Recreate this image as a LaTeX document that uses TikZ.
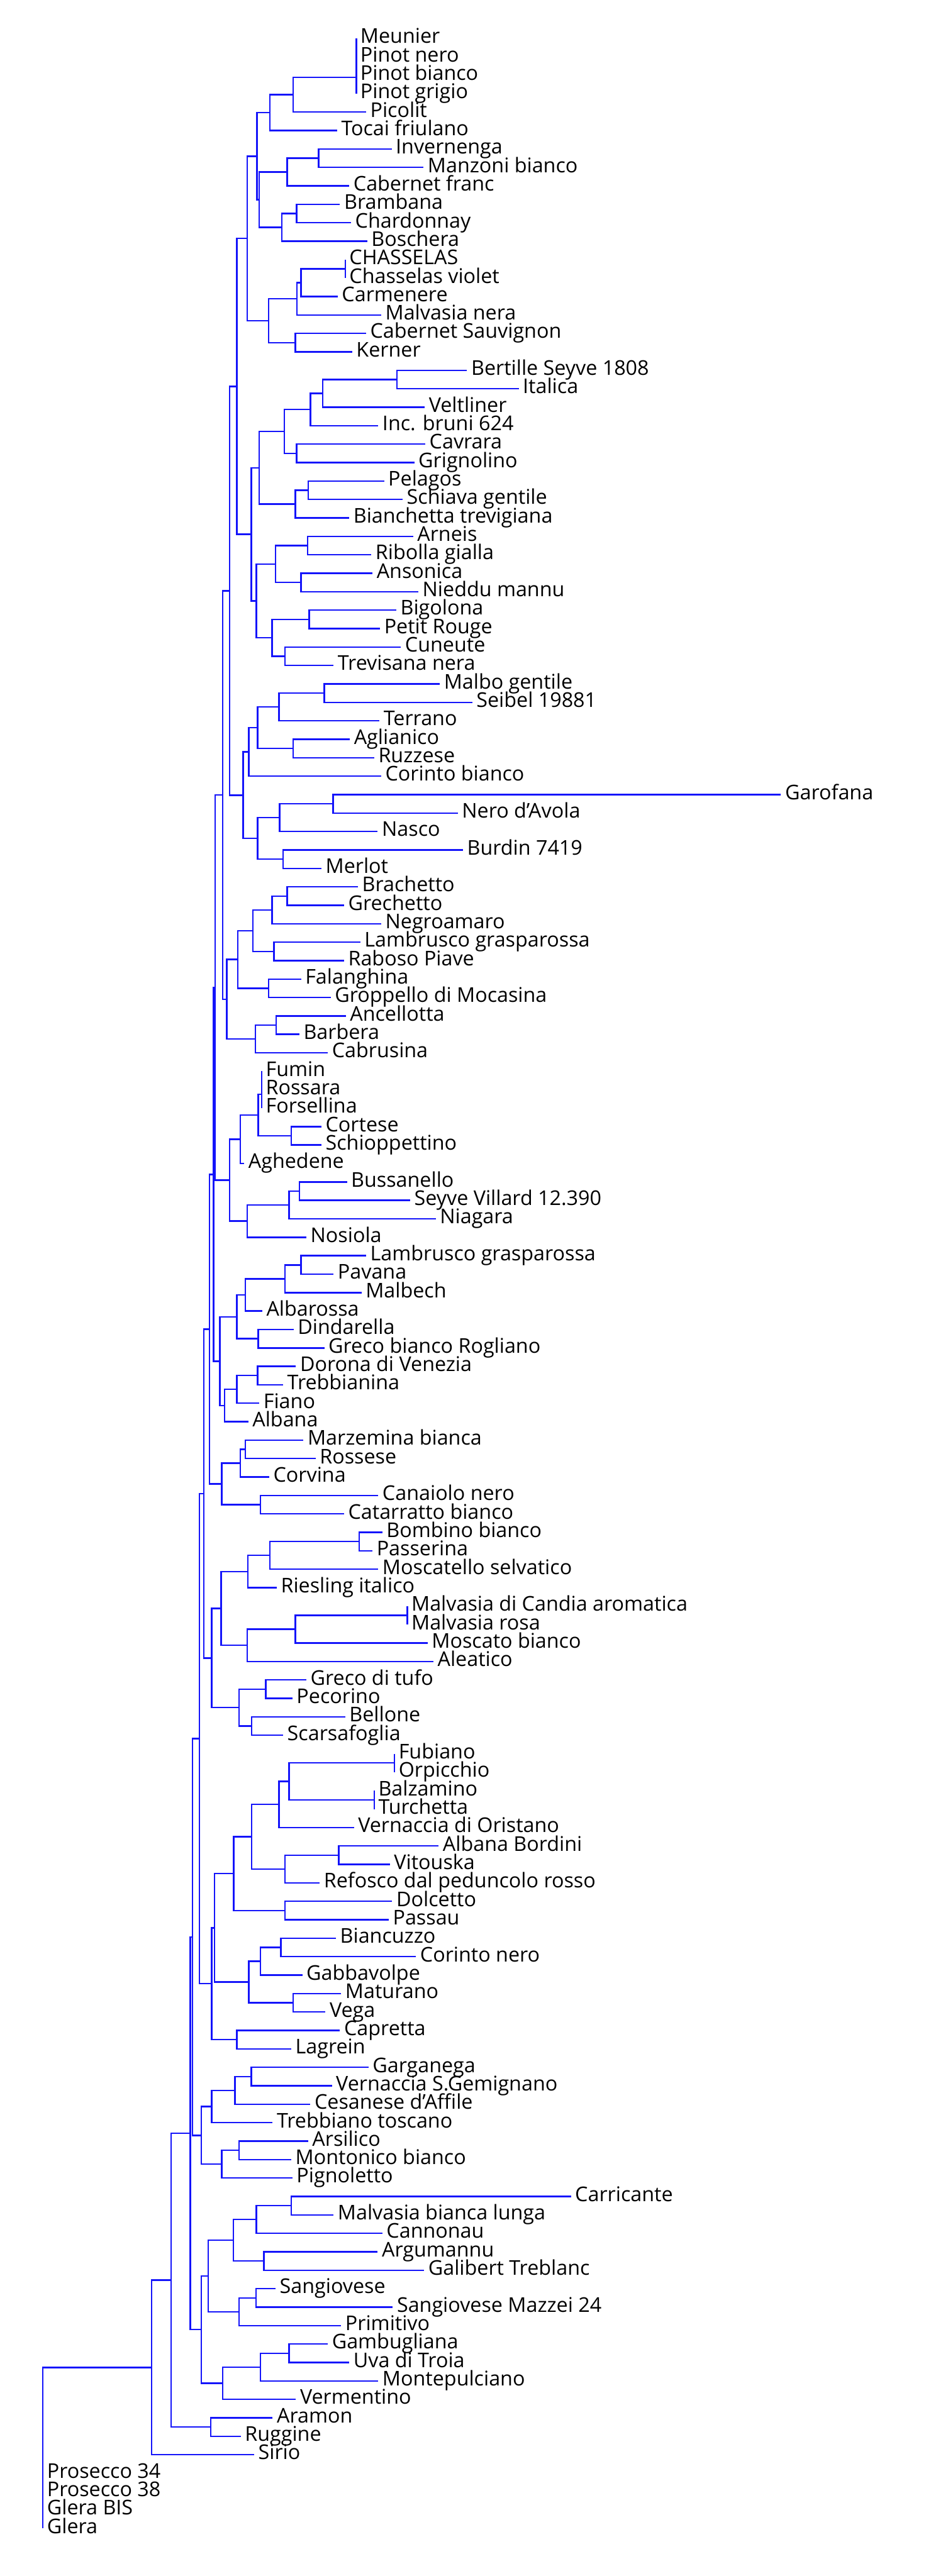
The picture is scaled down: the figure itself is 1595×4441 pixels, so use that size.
\documentclass[tikz,border=0pt]{standalone}
\usepackage{fontspec}
\setmainfont{Open Sans}
\usetikzlibrary{calc}
\definecolor{brcol}{RGB}{20,20,250}
\tikzset{
  brl/.style={draw=brcol, line width=2.6pt},
  lab/.style={anchor=base west, inner sep=0pt, xshift=7pt, yshift=-8.5pt, font=\fontsize{35}{35}\selectfont, text=black}
}
\newcommand\lf[4]{%
  \pgfmathsetmacro\yy{-(66+(#3-1)*31.8)}%
  \coordinate (#1) at (#2pt,\yy pt);
  \node[lab] (#1t) at (#1) {#4};
}
\newcommand\jn[4]{%
  \path let \p1=(#3), \p2=(#4) in coordinate (#1) at (#2pt,{0.5*(\y1+\y2)});
  \draw[brl] (#3) -- (#3 -| #1) -- (#4 -| #1) -- (#4);
}
\begin{document}
\begin{tikzpicture}
\fill[white] (0pt,0pt) rectangle (1595pt,-4441pt);
\useasboundingbox (0pt,0pt) rectangle (1595pt,-4441pt);
% leaves
\lf{l1}{614}{1}{Meunier}
\lf{l2}{614}{2}{Pinot nero}
\lf{l3}{614}{3}{Pinot bianco}
\lf{l4}{614}{4}{Pinot grigio}
\lf{l5}{631}{5}{Picolit}
\lf{l6}{581}{6}{Tocai friulano}
\lf{l7}{675}{7}{Invernenga}
\lf{l8}{730}{8}{Manzoni bianco}
\lf{l9}{602}{9}{Cabernet franc}
\lf{l10}{586}{10}{Brambana}
\lf{l11}{605}{11}{Chardonnay}
\lf{l12}{633}{12}{Boschera}
\lf{l13}{595}{13}{CHASSELAS}
\lf{l14}{595}{14}{Chasselas violet}
\lf{l15}{582}{15}{Carmenere}
\lf{l16}{657}{16}{Malvasia nera}
\lf{l17}{631}{17}{Cabernet Sauvignon}
\lf{l18}{607}{18}{Kerner}
\lf{l19}{805}{19}{Bertille Seyve 1808}
\lf{l20}{894}{20}{Italica}
\lf{l21}{732}{21}{Veltliner}
\lf{l22}{652}{22}{Inc. bruni 624}
\lf{l23}{733}{23}{Cavrara}
\lf{l24}{714}{24}{Grignolino}
\lf{l25}{662}{25}{Pelagos}
\lf{l26}{694}{26}{Schiava gentile}
\lf{l27}{602}{27}{Bianchetta trevigiana}
\lf{l28}{712}{28}{Arneis}
\lf{l29}{640}{29}{Ribolla gialla}
\lf{l30}{642}{30}{Ansonica}
\lf{l31}{721}{31}{Nieddu mannu}
\lf{l32}{683}{32}{Bigolona}
\lf{l33}{655}{33}{Petit Rouge}
\lf{l34}{691}{34}{Cuneute}
\lf{l35}{575}{35}{Trevisana nera}
\lf{l36}{758}{36}{Malbo gentile}
\lf{l37}{814}{37}{Seibel 19881}
\lf{l38}{654}{38}{Terrano}
\lf{l39}{603}{39}{Aglianico}
\lf{l40}{645}{40}{Ruzzese}
\lf{l41}{657}{41}{Corinto bianco}
\lf{l42}{1346}{42}{Garofana}
\lf{l43}{789}{43}{Nero d'Avola}
\lf{l44}{651}{44}{Nasco}
\lf{l45}{798}{45}{Burdin 7419}
\lf{l46}{554}{46}{Merlot}
\lf{l47}{617}{47}{Brachetto}
\lf{l48}{593}{48}{Grechetto}
\lf{l49}{657}{49}{Negroamaro}
\lf{l50}{621}{50}{Lambrusco grasparossa}
\lf{l51}{593}{51}{Raboso Piave}
\lf{l52}{519}{52}{Falanghina}
\lf{l53}{570}{53}{Groppello di Mocasina}
\lf{l54}{596}{54}{Ancellotta}
\lf{l55}{516}{55}{Barbera}
\lf{l56}{565}{56}{Cabrusina}
\lf{l57}{451}{57}{Fumin}
\lf{l58}{451}{58}{Rossara}
\lf{l59}{451}{59}{Forsellina}
\lf{l60}{554}{60}{Cortese}
\lf{l61}{554}{61}{Schioppettino}
\lf{l62}{421}{62}{Aghedene}
\lf{l63}{598}{63}{Bussanello}
\lf{l64}{707}{64}{Seyve Villard 12.390}
\lf{l65}{751}{65}{Niagara}
\lf{l66}{528}{66}{Nosiola}
\lf{l67}{631}{67}{Lambrusco grasparossa}
\lf{l68}{575}{68}{Pavana}
\lf{l69}{623}{69}{Malbech}
\lf{l70}{452}{70}{Albarossa}
\lf{l71}{506}{71}{Dindarella}
\lf{l72}{559}{72}{Greco bianco Rogliano}
\lf{l73}{510}{73}{Dorona di Venezia}
\lf{l74}{488}{74}{Trebbianina}
\lf{l75}{447}{75}{Fiano}
\lf{l76}{428}{76}{Albana}
\lf{l77}{523}{77}{Marzemina bianca}
\lf{l78}{544}{78}{Rossese}
\lf{l79}{464}{79}{Corvina}
\lf{l80}{652}{80}{Canaiolo nero}
\lf{l81}{593}{81}{Catarratto bianco}
\lf{l82}{659}{82}{Bombino bianco}
\lf{l83}{642}{83}{Passerina}
\lf{l84}{652}{84}{Moscatello selvatico}
\lf{l85}{477}{85}{Riesling italico}
\lf{l86}{702}{86}{Malvasia di Candia aromatica}
\lf{l87}{702}{87}{Malvasia rosa}
\lf{l88}{737}{88}{Moscato bianco}
\lf{l89}{747}{89}{Aleatico}
\lf{l90}{528}{90}{Greco di tufo}
\lf{l91}{504}{91}{Pecorino}
\lf{l92}{595}{92}{Bellone}
\lf{l93}{488}{93}{Scarsafoglia}
\lf{l94}{680}{94}{Fubiano}
\lf{l95}{680}{95}{Orpicchio}
\lf{l96}{645}{96}{Balzamino}
\lf{l97}{645}{97}{Turchetta}
\lf{l98}{610}{98}{Vernaccia di Oristano}
\lf{l99}{756}{99}{Albana Bordini}
\lf{l100}{672}{100}{Vitouska}
\lf{l101}{551}{101}{Refosco dal peduncolo rosso}
\lf{l102}{676}{102}{Dolcetto}
\lf{l103}{670}{103}{Passau}
\lf{l104}{579}{104}{Biancuzzo}
\lf{l105}{717}{105}{Corinto nero}
\lf{l106}{521}{106}{Gabbavolpe}
\lf{l107}{588}{107}{Maturano}
\lf{l108}{561}{108}{Vega}
\lf{l109}{586}{109}{Capretta}
\lf{l110}{502}{110}{Lagrein}
\lf{l111}{635}{111}{Garganega}
\lf{l112}{572}{112}{Vernaccia S.Gemignano}
\lf{l113}{535}{113}{Cesanese d'Affile}
\lf{l114}{470}{114}{Trebbiano toscano}
\lf{l115}{531}{115}{Arsilico}
\lf{l116}{502}{116}{Montonico bianco}
\lf{l117}{504}{117}{Pignoletto}
\lf{l118}{984}{118}{Carricante}
\lf{l119}{575}{119}{Malvasia bianca lunga}
\lf{l120}{659}{120}{Cannonau}
\lf{l121}{651}{121}{Argumannu}
\lf{l122}{731}{122}{Galibert Treblanc}
\lf{l123}{475}{123}{Sangiovese}
\lf{l124}{677}{124}{Sangiovese Mazzei 24}
\lf{l125}{588}{125}{Primitivo}
\lf{l126}{565}{126}{Gambugliana}
\lf{l127}{602}{127}{Uva di Troia}
\lf{l128}{652}{128}{Montepulciano}
\lf{l129}{510}{129}{Vermentino}
\lf{l130}{470}{130}{Aramon}
\lf{l131}{415}{131}{Ruggine}
\lf{l132}{438}{132}{Sirio}
\lf{l133}{74}{133}{Prosecco 34}
\lf{l134}{74}{134}{Prosecco 38}
\lf{l135}{74}{135}{Glera BIS}
\lf{l136}{74}{136}{Glera}
% internal nodes
\jn{P1}{614}{l1}{l2}
\jn{P2}{614}{P1}{l3}
\jn{P3}{614}{P2}{l4}
\jn{A1}{505}{P3}{l5}
\jn{A2}{465}{A1}{l6}
\jn{B1}{549}{l7}{l8}
\jn{B2}{495}{B1}{l9}
\jn{D1}{511}{l10}{l11}
\jn{D2}{486}{D1}{l12}
\jn{C}{447}{B2}{D2}
\jn{A3}{443}{A2}{C}
\jn{E1}{595}{l13}{l14}
\jn{E2}{519}{E1}{l15}
\jn{E3}{512}{E2}{l16}
\jn{E4}{509}{l17}{l18}
\jn{E5}{463}{E3}{E4}
\jn{A4}{426}{A3}{E5}
\jn{I1}{684}{l19}{l20}
\jn{I2}{556}{I1}{l21}
\jn{I3}{535}{I2}{l22}
\jn{J1}{511}{l23}{l24}
\jn{I4}{490}{I3}{J1}
\jn{K1}{531}{l25}{l26}
\jn{K2}{509}{K1}{l27}
\jn{L}{447}{I4}{K2}
\jn{N1}{530}{l28}{l29}
\jn{N2}{519}{l30}{l31}
\jn{N3}{475}{N1}{N2}
\jn{O1}{533}{l32}{l33}
\jn{O2}{491}{l34}{l35}
\jn{O3}{469}{O1}{O2}
\jn{M}{442}{N3}{O3}
\jn{G}{433}{L}{M}
\jn{H}{408}{A4}{G}
\jn{S1}{559}{l36}{l37}
\jn{S2}{481}{S1}{l38}
\jn{S3}{505}{l39}{l40}
\jn{S4}{444}{S2}{S3}
\jn{S5}{429}{S4}{l41}
\jn{T1}{574}{l42}{l43}
\jn{T2}{482}{T1}{l44}
\jn{T3}{488}{l45}{l46}
\jn{T4}{444}{T2}{T3}
\jn{R}{419}{S5}{T4}
\jn{Q}{396}{H}{R}
\jn{W1}{495}{l47}{l48}
\jn{W2}{469}{W1}{l49}
\jn{W3}{472}{l50}{l51}
\jn{W4}{436}{W2}{W3}
\jn{W5}{463}{l52}{l53}
\jn{W6}{410}{W4}{W5}
\jn{W7}{476}{l54}{l55}
\jn{W8}{440}{W7}{l56}
\jn{W9}{391}{W6}{W8}
\jn{U}{384}{Q}{W9}
\jn{Fu1}{451}{l57}{l58}
\jn{Fu2}{451}{Fu1}{l59}
\jn{Co}{502}{l60}{l61}
\jn{Fu3}{445}{Fu2}{Co}
\jn{Xa}{414}{Fu3}{l62}
\jn{Bu1}{516}{l63}{l64}
\jn{Bu2}{498}{Bu1}{l65}
\jn{Bu3}{426}{Bu2}{l66}
\jn{X}{396}{Xa}{Bu3}
\jn{X1}{371}{U}{X}
\jn{Pa1}{519}{l67}{l68}
\jn{Pa2}{491}{Pa1}{l69}
\jn{Pa3}{423}{Pa2}{l70}
\jn{Di}{445}{l71}{l72}
\jn{Pa4}{408}{Pa3}{Di}
\jn{Do1}{444}{l73}{l74}
\jn{Do2}{408}{Do1}{l75}
\jn{Do3}{387}{Do2}{l76}
\jn{Y}{379}{Pa4}{Do3}
\jn{X2}{368}{X1}{Y}
\jn{Ma1}{423}{l77}{l78}
\jn{Ma2}{414}{Ma1}{l79}
\jn{Ca}{449}{l80}{l81}
\jn{AA}{382}{Ma2}{Ca}
\jn{X3}{361}{X2}{AA}
\jn{Bo1}{619}{l82}{l83}
\jn{Bo2}{465}{Bo1}{l84}
\jn{Bo3}{427}{Bo2}{l85}
\jn{Mv1}{702}{l86}{l87}
\jn{Mv2}{509}{Mv1}{l88}
\jn{Mv3}{426}{Mv2}{l89}
\jn{BBa}{381}{Bo3}{Mv3}
\jn{Gr1}{458}{l90}{l91}
\jn{Gr2}{434}{l92}{l93}
\jn{Gr3}{412}{Gr1}{Gr2}
\jn{BB}{365}{BBa}{Gr3}
\jn{X4}{351}{X3}{BB}
\jn{FuA}{680}{l94}{l95}
\jn{BaA}{645}{l96}{l97}
\jn{FB}{498}{FuA}{BaA}
\jn{FB2}{481}{FB}{l98}
\jn{Al1}{584}{l99}{l100}
\jn{Al2}{491}{Al1}{l101}
\jn{FA}{434}{FB2}{Al2}
\jn{DP}{491}{l102}{l103}
\jn{Dd1}{403}{FA}{DP}
\jn{Bi1}{484}{l104}{l105}
\jn{Bi2}{449}{Bi1}{l106}
\jn{Mt}{505}{l107}{l108}
\jn{Bi3}{429}{Bi2}{Mt}
\jn{DD}{370}{Dd1}{Bi3}
\jn{CL}{408}{l109}{l110}
\jn{CC}{365}{DD}{CL}
\jn{X5}{344}{X4}{CC}
\jn{Ga1}{433}{l111}{l112}
\jn{Ga2}{405}{Ga1}{l113}
\jn{Ga3}{365}{Ga2}{l114}
\jn{Ar1}{412}{l115}{l116}
\jn{Ar2}{382}{Ar1}{l117}
\jn{EE}{347}{Ga3}{Ar2}
\jn{X6}{332}{X5}{EE}
\jn{Cr1}{502}{l118}{l119}
\jn{Cr2}{442}{Cr1}{l120}
\jn{Ag}{455}{l121}{l122}
\jn{Cr3}{402}{Cr2}{Ag}
\jn{Sg1}{441}{l123}{l124}
\jn{Sg2}{412}{Sg1}{l125}
\jn{Cr4}{359}{Cr3}{Sg2}
\jn{Gm1}{498}{l126}{l127}
\jn{Gm2}{449}{Gm1}{l128}
\jn{Gm3}{384}{Gm2}{l129}
\jn{FF}{347}{Cr4}{Gm3}
\jn{X7}{328}{X6}{FF}
\jn{AR}{363}{l130}{l131}
\jn{X8}{295}{X7}{AR}
\jn{X9}{261}{X8}{l132}
\jn{Pr1}{74}{l133}{l134}
\jn{Pr2}{74}{Pr1}{l135}
\jn{Pr3}{74}{Pr2}{l136}
\jn{Root}{74}{X9}{Pr3}
\end{tikzpicture}
\end{document}
